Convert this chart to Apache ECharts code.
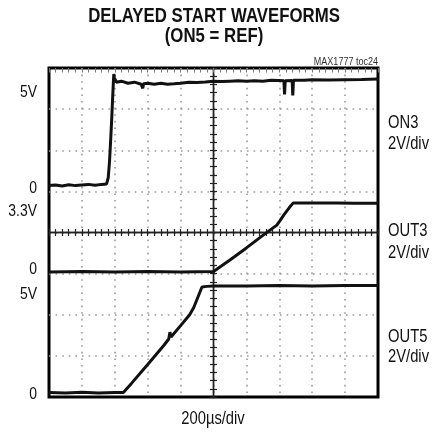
<!DOCTYPE html>
<html>
<head>
<meta charset="utf-8">
<script src="https://cdn.jsdelivr.net/npm/echarts@6/dist/echarts.min.js"></script>
<style>html,body{margin:0;padding:0;background:#fff;}#c{width:445px;height:433px;}</style>
</head>
<body>
<div id="c"></div>
<script>
// ---- data (time in microseconds, values in volts) ----
var title1 = 'DELAYED START WAVEFORMS';
var title2 = '(ON5 = REF)';
var note = 'MAX1777 toc24';
var xUnitLabel = '200\u00B5s/div';
var channelNames = ['ON3', 'OUT3', 'OUT5'];
var channelScales = ['2V/div', '2V/div', '2V/div'];
var leftLabels = ['5V', '0', '3.3V', '0', '5V', '0'];
// zero-level position of each channel, in divisions from the bottom of the screen
var channelZeroDiv = [5.13, 3.04, 0.1];
var voltsPerDiv = 2;
var timePerDiv = 200;
var xDivs = 10, yDivs = 8;

var on3 = [[0,0.02],[40,0.05],[80,0.0],[120,0.06],[160,0.02],[200,0.05],[240,0.08],[280,0.04],[320,0.08],[350,0.1],
  [360,0.4],[368,1.2],[376,2.4],[382,3.4],[387,4.3],[391,5.0],[394,5.45],[398,5.25],[410,5.05],[440,5.1],[480,5.0],
  [520,5.05],[560,4.95],[570,4.75],[575,4.98],[600,5.0],[640,4.95],[680,5.0],[720,4.95],[760,4.97],[800,5.0],[850,5.05],
  [900,5.04],[950,5.06],[1000,5.1],[1050,5.08],[1100,5.1],[1150,5.12],[1200,5.1],[1250,5.12],[1300,5.1],[1350,5.14],
  [1400,5.13],[1428,5.12],[1432,4.45],[1436,5.12],[1478,5.13],[1482,4.4],[1486,5.14],[1550,5.15],[1600,5.17],
  [1700,5.16],[1800,5.17],[1900,5.18],[2000,5.2]];
var out3 = [[0,0.0],[200,0.02],[400,0.0],[600,0.02],[800,0.0],[1000,0.02],[1010,0.05],[1100,0.58],[1200,1.17],
  [1300,1.78],[1385,2.28],[1400,2.45],[1430,2.8],[1460,3.12],[1485,3.36],[1550,3.36],[1650,3.35],[1750,3.36],
  [1850,3.34],[2000,3.34]];
var out5 = [[0,0.02],[100,0.0],[200,0.03],[300,0.0],[400,0.02],[452,0.02],[500,0.45],[600,1.38],[700,2.33],
  [728,2.62],[735,2.95],[742,2.72],[800,3.27],[855,3.8],[880,4.15],[905,4.65],[930,5.15],[960,5.18],[1000,5.2],
  [1200,5.2],[1400,5.22],[1600,5.2],[1800,5.22],[2000,5.22]];

var FONT = "'Liberation Sans',Arial,sans-serif";
var NARROW_SCALE = 0.82;

function chanAxis(i) {
  return {
    type: 'value', gridIndex: 0,
    min: -channelZeroDiv[i] * voltsPerDiv,
    max: (yDivs - channelZeroDiv[i]) * voltsPerDiv,
    show: false, axisLine: {onZero: false}, splitLine: {show: false}
  };
}
function hiddenAxis(min, max) {
  return {type: 'value', min: min, max: max, show: false, axisLine: {onZero: false}, splitLine: {show: false}};
}
function centerTicks(inside) {
  return {
    axisLine: {show: true, onZero: true, onZeroAxisIndex: 1, lineStyle: {color: '#222', width: 1.4}},
    axisTick: {show: true, inside: inside, length: 3.5, lineStyle: {color: '#222', width: 1.2}},
    minorTick: {show: true, splitNumber: 5, length: 3.5, lineStyle: {color: '#222', width: 1.2}},
    axisLabel: {show: false}, splitLine: {show: false}
  };
}

var halfT = xDivs * timePerDiv / 2;
var xCenterA = Object.assign({type: 'value', min: -halfT, max: halfT, interval: timePerDiv, position: 'bottom'}, centerTicks(false));
var xCenterB = Object.assign({type: 'value', min: -halfT, max: halfT, interval: timePerDiv, position: 'bottom'}, centerTicks(true));
var yCenterA = Object.assign({type: 'value', min: -yDivs / 2, max: yDivs / 2, interval: 1, position: 'left'}, centerTicks(false));
var yCenterB = Object.assign({type: 'value', min: -yDivs / 2, max: yDivs / 2, interval: 1, position: 'left'}, centerTicks(true));
// small inward ticks along the top edge of the screen
var xTopEdge = {type: 'value', min: 0, max: xDivs * timePerDiv, interval: timePerDiv, position: 'top',
  axisLine: {show: false, onZero: false}, axisLabel: {show: false}, splitLine: {show: false},
  axisTick: {show: true, inside: true, length: 4.5, lineStyle: {color: '#777', width: 1}},
  minorTick: {show: true, splitNumber: 5, length: 4.5, lineStyle: {color: '#777', width: 1}}};

var dotted = {show: true, showMinLine: false, showMaxLine: false,
  lineStyle: {color: '#9a9a9a', width: 1.6, type: [1.6, 5]}};

var chart = echarts.init(document.getElementById('c'), null, {renderer: 'canvas'});

var graphics = [];
function txt(x, y, s, size, align, weight, color, sx) {
  graphics.push({type: 'text', x: x, y: y, scaleX: sx || NARROW_SCALE, silent: true, z: 10, style: {
    text: s, fontFamily: FONT, fontSize: size, fontWeight: weight || 'normal',
    fill: color || '#111', textAlign: align, textVerticalAlign: 'middle'}});
}
txt(214, 16.5, title1, 20, 'center', 'bold', '#111', 0.84);
txt(214, 36, title2, 20, 'center', 'bold', '#111', 0.84);
txt(378, 62, note, 11, 'right', 'normal', '#333');
var leftY = [92, 188, 211, 269, 294, 394];
for (var i = 0; i < leftLabels.length; i++) txt(37, leftY[i], leftLabels[i], 17, 'right');
var rightY = [[123, 144], [231, 253], [337, 357]];
for (var j = 0; j < channelNames.length; j++) {
  txt(388, rightY[j][0], channelNames[j], 18, 'left');
  txt(388, rightY[j][1], channelScales[j], 18, 'left');
}
txt(213, 419, xUnitLabel, 18, 'center');

function trace(data, yIdx) {
  return {type: 'line', xAxisIndex: 0, yAxisIndex: yIdx, data: data, symbol: 'none', smooth: false,
    lineStyle: {color: '#111', width: 3}, z: 5, clip: true};
}

chart.setOption({
  animation: false,
  backgroundColor: '#fff',
  grid: {left: 49, top: 68, width: 329, height: 329, show: true, borderColor: '#000', borderWidth: 3, backgroundColor: 'transparent'},
  xAxis: [
    {type: 'value', min: 0, max: xDivs * timePerDiv, interval: timePerDiv, axisLine: {show: false, onZero: false},
     axisTick: {show: false}, axisLabel: {show: false}, splitLine: dotted},
    hiddenAxis(-halfT, halfT),
    xCenterA, xCenterB, xTopEdge
  ],
  yAxis: [
    {type: 'value', min: 0, max: yDivs, interval: 1, axisLine: {show: false, onZero: false},
     axisTick: {show: false}, axisLabel: {show: false}, splitLine: dotted},
    hiddenAxis(-yDivs / 2, yDivs / 2),
    chanAxis(0), chanAxis(1), chanAxis(2),
    yCenterA, yCenterB
  ],
  series: [trace(on3, 2), trace(out3, 3), trace(out5, 4)],
  graphic: graphics
});
</script>
</body>
</html>
